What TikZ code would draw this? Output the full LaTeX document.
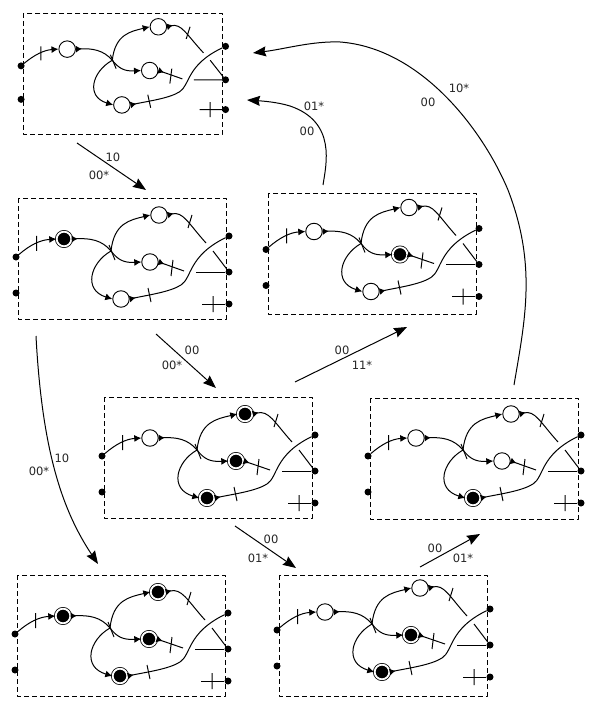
\documentclass[tikz,border=0pt]{standalone}
\usepackage{fontspec}
\setsansfont{DejaVu Sans}
\usetikzlibrary{arrows.meta}
\tikzset{
	frame/.style={dashed,dash pattern=on 5pt off 3pt,line width=.9pt},
	wire/.style={line width=1pt},
	placeoff/.style={circle,draw,fill=white,line width=.9pt,minimum size=16.5pt,inner sep=0pt},
	placeon/.style={circle,draw=black,fill=black,double=white,double distance=1.8pt,line width=.8pt,minimum size=14.6pt,inner sep=0pt},
	dot/.style={circle,fill=black,minimum size=7pt,inner sep=0pt},
	intip/.style={-{Latex[length=7pt,width=7pt]}},
	outtip/.style={{Latex[reversed,length=6pt,width=7pt]}-},
	move/.style={-{Stealth[length=13pt,width=10pt,inset=1.5pt]},line width=1pt},
	tag/.style={font=\sffamily\fontsize{11.5}{12}\selectfont,text=black!85,inner sep=0pt}
}
% one net: name, left, top, xscale, state of the four places, then the shift of its content
\newcommand{\petrinet}[9]{
	\begin{scope}[shift={(#2,#3)},xscale=#4,name prefix=#1-]
		\draw[frame] (0,0) rectangle (208,121);
		\begin{scope}[#9]
		\node[dot] (ina) at (-2,59) {};
		\node[dot] (inb) at (-2,95) {};
		\node[dot] (outa) at (211,38) {};
		\node[dot] (outb) at (211,74) {};
		\node[dot] (outc) at (211,106) {};
		\node[#5] (first) at (46,41) {};
		\node[#6] (high) at (141,17) {};
		\node[#7] (mid) at (132,64) {};
		\node[#8] (low) at (103,101) {};
		\coordinate (join) at (93,53);
		\coordinate (higha) at (188,45);
		\coordinate (highb) at (195,53);
		\coordinate (mida) at (166,73);
		\coordinate (midb) at (178,74);
		\coordinate (lowa) at (163,87);
		\coordinate (freec) at (184,106);
		\draw[wire,intip] (ina) .. controls (12,47) and (22,42) .. (first.west);
		\draw[wire,outtip] (first.east) .. controls (72,40) and (84,42) .. (join);
		\draw[wire,intip] (join) .. controls (100,62) and (106,65) .. (mid.west);
		\draw[wire,intip] (join) .. controls (96,25) and (112,22) .. (high.west);
		\draw[wire,intip] (join) .. controls (72,65) and (65,92) .. (low.west);
		\draw[wire,outtip] (high.east) .. controls (165,13) and (170,25) .. (higha);
		\draw[wire] (highb) -- (outb);
		\draw[wire,outtip] (mid.east) -- (mida);
		\draw[wire] (midb) -- (outb);
		\draw[wire,outtip] (low.east) .. controls (130,97) and (152,94) .. (lowa) .. controls (174,80) and (170,58) .. (outa);
		\draw[wire] (freec) -- (outc);
		\draw[wire] (18.5,38)--(18.5,53) (91,47)--(97,62) (174,17)--(170,30) (155,62)--(153,78) (130,90)--(133,104) (195,98)--(195,114);
		\end{scope}
	\end{scope}
}
\begin{document}
\begin{tikzpicture}[x=1pt,y=-1pt,>=stealth,line join=round]
	\useasboundingbox (0,0) rectangle (595,708);
	\petrinet{na}{23}{13}{.96}{placeoff}{placeoff}{placeoff}{placeoff}{yshift=2pt,yscale=.93}
	\petrinet{nb}{18}{198}{1}{placeon}{placeoff}{placeoff}{placeoff}{}
	\petrinet{nc}{268}{193}{1}{placeoff}{placeoff}{placeon}{placeoff}{yshift=2.5pt}
	\petrinet{nd}{104}{397}{1}{placeoff}{placeon}{placeon}{placeon}{}
	\petrinet{ne}{370}{398}{1}{placeoff}{placeoff}{placeoff}{placeon}{yshift=1pt}
	\petrinet{nf}{17}{575}{1}{placeon}{placeon}{placeon}{placeon}{}
	\petrinet{ng}{279}{575}{1}{placeoff}{placeoff}{placeon}{placeon}{yshift=4pt}
	% ends of the moves between the nets
	\coordinate (abs) at (77,143); \coordinate (abe) at (146,190);
	\coordinate (bds) at (156,334); \coordinate (bde) at (216,388);
	\coordinate (bfs) at (36,336); \coordinate (bfe) at (98,564);
	\coordinate (dcs) at (295,382); \coordinate (dce) at (407,327);
	\coordinate (dgs) at (235,526); \coordinate (dge) at (296,568);
	\coordinate (ges) at (420,567); \coordinate (gee) at (480,534);
	\coordinate (cas) at (323,185); \coordinate (cae) at (247,100);
	\coordinate (eas) at (514,385); \coordinate (eae) at (253,53);
	\draw[move] (abs)--(abe);
	\draw[move] (bds)--(bde);
	\draw[move] (bfs) .. controls (42,450) and (62,510) .. (bfe);
	\draw[move] (dcs)--(dce);
	\draw[move] (dgs)--(dge);
	\draw[move] (ges)--(gee);
	\draw[move] (cas) .. controls (326,165) and (337,122) .. (290,106) .. controls (277,102) and (262,101) .. (cae);
	\draw[move] (eas) .. controls (525,320) and (537,265) .. (508,190) .. controls (482,128) and (420,48) .. (340,42) .. controls (312,41) and (285,49) .. (eae);
	\node[tag] (ab10) at (113,157) {10};
	\node[tag] (ab00) at (99,175) {00*};
	\node[tag] (bd00) at (192,350) {00};
	\node[tag] (bd01) at (172,365) {00*};
	\node[tag] (bf10) at (62,458) {10};
	\node[tag] (bf00) at (39,471) {00*};
	\node[tag] (dc00) at (342,350) {00};
	\node[tag] (dc11) at (362,365) {11*};
	\node[tag] (dg00) at (271,539) {00};
	\node[tag] (dg01) at (258,558) {01*};
	\node[tag] (ge00) at (435,548) {00};
	\node[tag] (ge01) at (463,558) {01*};
	\node[tag] (ca01) at (314,106) {01*};
	\node[tag] (ca00) at (307,131) {00};
	\node[tag] (ea10) at (459,88) {10*};
	\node[tag] (ea00) at (428,102) {00};
\end{tikzpicture}
\end{document}
